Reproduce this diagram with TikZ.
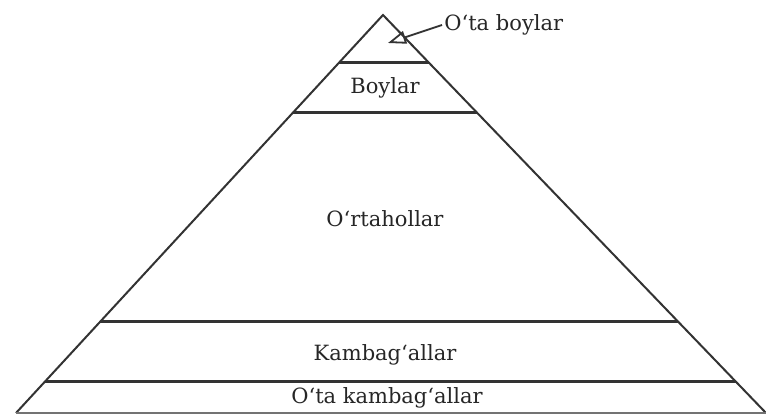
\documentclass[tikz,border=0pt]{standalone}
\usepackage{fontspec}
\setmainfont{DejaVu Serif}
\usetikzlibrary{arrows.meta, calc}

\begin{document}
\begin{tikzpicture}[
    x=0.5pt, y=-0.5pt,
    every node/.style={font=\fontsize{10.5}{12}\selectfont, text=black!85},
    side/.style={draw=black!80, line width=1pt},
    band/.style={draw=black!80, line width=1.5pt},
    baseline/.style={draw=black!55, line width=0.6pt},
    label/.style={inner sep=1pt},
    callout/.style={draw=black!80, line width=0.9pt, -{Triangle[open, length=9pt, width=6.5pt]}}
]
\useasboundingbox (0,0) rectangle (766,415);

% Pyramid corners
\coordinate (apex) at (383,15);
\coordinate (bl) at (16,413);
\coordinate (br) at (766,413);

% Outline
\draw[side] (bl) -- (apex) -- (br);
\draw[baseline] (bl) -- (br);

% Band boundaries
\foreach \f/\n in {0.1206/a, 0.246/b, 0.771/c, 0.922/d} {
    \coordinate (l\n) at ($(apex)!\f!(bl)$);
    \coordinate (r\n) at ($(apex)!\f!(br)$);
    \draw[band] (l\n) -- (r\n);
}

% Layer labels
\node[label] (boylar) at (385,88) {Boylar};
\node[label] (orta) at (385,219) {O‘rtahollar};
\node[label] (kambag) at (385,355) {Kambag‘allar};
\node[label] (otakambag) at (387,398) {O‘ta kambag‘allar};

% Top layer callout
\node[label, anchor=west] (otaboylar) at (442,25) {O‘ta boylar};
\coordinate (tip) at (388,43);
\draw[callout] (otaboylar.west) -- (tip);

\end{tikzpicture}
\end{document}
